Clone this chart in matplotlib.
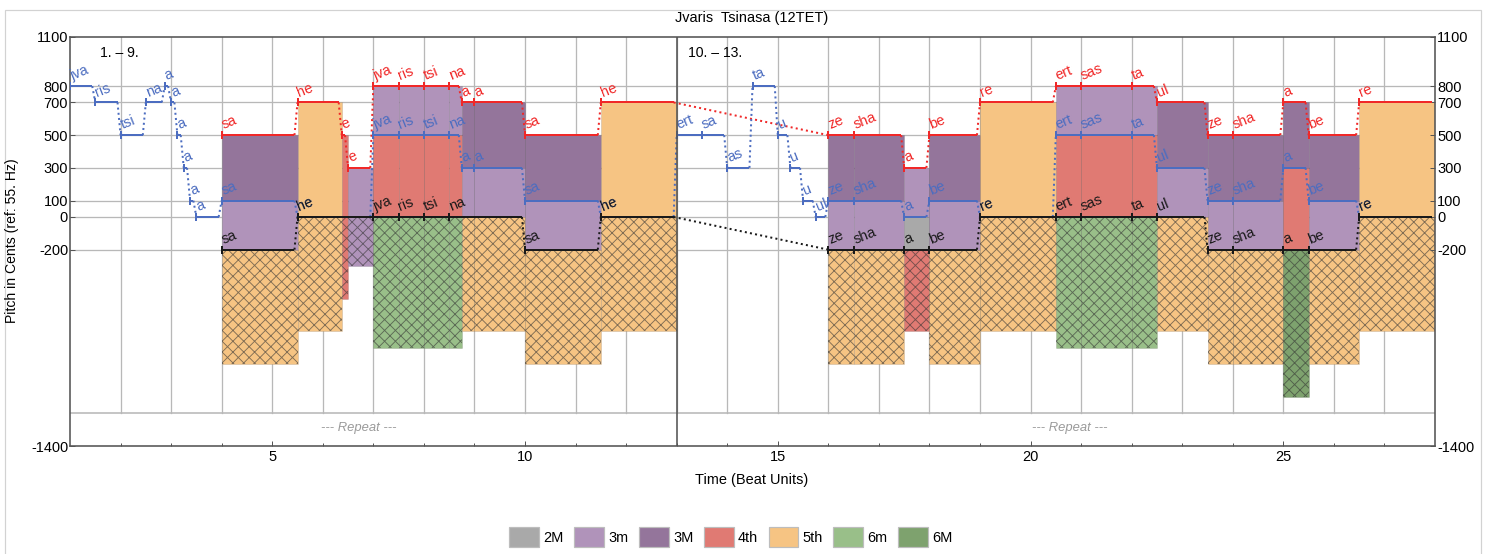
import numpy as np
import matplotlib
matplotlib.use("Agg")
import matplotlib.pyplot as plt
from matplotlib.patches import Rectangle, Patch

DPI = 130
W, H = 1493, 554


def pt(px):
    # pixel size -> points at the chosen dpi
    return px * 72.0 / DPI


plt.rcParams['font.family'] = ['Liberation Sans', 'DejaVu Sans']
plt.rcParams['hatch.linewidth'] = pt(0.9)

# ---- data ----
section_ends = [13, 28]

top_syl = ["sa", "he", "e", "e", "jva", "ris", "tsi", "na", "a", "a", "sa", "he",
           "ze", "sha", "a", "be", "re", "ert", "sas", "ta", "ul", "ze", "sha", "a", "be", "re"]
top_pitch = [500, 700, 500, 300, 800, 800, 800, 800, 700, 700, 500, 700,
             500, 500, 300, 500, 700, 800, 800, 800, 700, 500, 500, 700, 500, 700]
top_on = [4, 5.5, 6.375, 6.5, 7, 7.5, 8, 8.5, 8.75, 9, 10, 11.5,
          16, 16.5, 17.5, 18, 19, 20.5, 21, 22, 22.5, 23.5, 24, 25, 25.5, 26.5]

mid_syl = ["jva", "ris", "tsi", "na", "a", "a", "a", "a", "a", "a", "sa", "he",
           "jva", "ris", "tsi", "na", "a", "a", "sa", "he",
           "ert", "sa", "as", "ta", "u", "u", "u", "ul", "ze", "sha", "a", "be", "re",
           "ert", "sas", "ta", "ul", "ze", "sha", "a", "be", "re"]
mid_pitch = [800, 700, 500, 700, 800, 700, 500, 300, 100, 0, 100, 0,
             500, 500, 500, 500, 300, 300, 100, 0,
             500, 500, 300, 800, 500, 300, 100, 0, 100, 100, 0, 100, 0,
             500, 500, 500, 300, 100, 100, 300, 100, 0]
mid_on = [1, 1.5, 2, 2.5, 2.875, 3, 3.125, 3.25, 3.375, 3.5, 4, 5.5,
          7, 7.5, 8, 8.5, 8.75, 9, 10, 11.5,
          13, 13.5, 14, 14.5, 15, 15.25, 15.5, 15.75, 16, 16.5, 17.5, 18, 19,
          20.5, 21, 22, 22.5, 23.5, 24, 25, 25.5, 26.5]

bot_syl = ["sa", "he", "jva", "ris", "tsi", "na", "sa", "he",
           "ze", "sha", "a", "be", "re", "ert", "sas", "ta", "ul", "ze", "sha", "a", "be", "re"]
bot_pitch = [-200, 0, 0, 0, 0, 0, -200, 0,
             -200, -200, -200, -200, 0, 0, 0, 0, 0, -200, -200, -200, -200, 0]
bot_on = [4, 5.5, 7, 7.5, 8, 8.5, 10, 11.5,
          16, 16.5, 17.5, 18, 19, 20.5, 21, 22, 22.5, 23.5, 24, 25, 25.5, 26.5]

interval_names = ["2M", "3m", "3M", "4th", "5th", "6m", "6M"]
interval_cents = [200, 300, 400, 500, 700, 800, 900]
interval_colors = ["#a9a9a9", "#b093ba", "#94759b", "#e07a73", "#f6c483", "#99bf89", "#7ea26e"]

yticks = [1100, 800, 700, 500, 300, 100, 0, -200, -1400]

RED = "#f02828"
BLUE = "#4c6dc0"
BLACK = "#1a1a1a"
GRID = "#b8b8b8"
SPINE = "#555555"
GAP = 0.06
LW = pt(2.0)

cmap = dict(zip(interval_cents, interval_colors))


def note_ends(on):
    ends = []
    for i, t in enumerate(on):
        nxt = on[i + 1] if i + 1 < len(on) else np.inf
        sec = min(s for s in section_ends if s > t)
        ends.append(min(nxt, sec))
    return ends


top_end = note_ends(top_on)
mid_end = note_ends(mid_on)
bot_end = note_ends(bot_on)


def pitch_at(t, on, ends, pitch):
    for a, b, p in zip(on, ends, pitch):
        if a <= t < b:
            return p
    return None


fig = plt.figure(figsize=(W / DPI, H / DPI), dpi=DPI)
ax = fig.add_axes([70 / W, 1 - 446 / H, (1435 - 70) / W, (446 - 37) / H])
ax.set_xlim(1, 28)
ax.set_ylim(-1400, 1100)

# grid
for x in range(2, 28):
    ax.plot([x, x], [-1200, 1100], color=GRID, lw=pt(1.3), zorder=0)
for y in yticks[1:-1]:
    ax.axhline(y, color=GRID, lw=pt(1.3), zorder=0)
ax.axhline(-1200, color=GRID, lw=pt(1.6), zorder=0)

# interval fills
bps = sorted(set(top_on + top_end + mid_on + mid_end + bot_on + bot_end))
for a, b in zip(bps[:-1], bps[1:]):
    tm = 0.5 * (a + b)
    pt_ = pitch_at(tm, top_on, top_end, top_pitch)
    pm = pitch_at(tm, mid_on, mid_end, mid_pitch)
    pb = pitch_at(tm, bot_on, bot_end, bot_pitch)
    if pt_ is None or pm is None or pb is None:
        continue
    for lo, hi in [(pm, pt_), (pb, pm)]:
        if hi - lo > 0:
            ax.add_patch(Rectangle((a, lo), b - a, hi - lo, facecolor=cmap[hi - lo],
                                   edgecolor=(0, 0, 0, 0.12), lw=pt(0.8), zorder=1))
    outer = pt_ - pb
    if outer > 0:
        ax.add_patch(Rectangle((a, pb - outer), b - a, outer, facecolor=cmap[outer],
                               edgecolor=(0, 0, 0, 0.12), lw=pt(0.8), zorder=1))
        ax.add_patch(Rectangle((a, pb - outer), b - a, outer, facecolor='none',
                               edgecolor=(0.2, 0.2, 0.2, 0.6), hatch='xxxx', lw=0, zorder=1.5))


def draw_voice(on, ends, pitch, syl, color, z):
    for i in range(len(on)):
        x0, x1, p = on[i], ends[i], pitch[i]
        ax.plot([x0, x1 - GAP], [p, p], color=color, lw=LW, solid_capstyle='butt', zorder=z)
        ax.plot([x0], [p], marker='|', ms=pt(8), mew=LW, color=color, zorder=z)
        if i + 1 < len(on):
            ax.plot([x1 - GAP, on[i + 1]], [p, pitch[i + 1]], color=color, lw=LW,
                    ls=(0, (1, 1.6)), zorder=z)
        ax.annotate(syl[i], (x0, p), xytext=(pt(3), pt(3)), textcoords='offset points',
                    ha='left', va='bottom', rotation=22, rotation_mode='anchor',
                    fontsize=pt(14.5), color=color, zorder=z + 1)


draw_voice(top_on, top_end, top_pitch, top_syl, RED, 3)
draw_voice(mid_on, mid_end, mid_pitch, mid_syl, BLUE, 3.2)
draw_voice(bot_on, bot_end, bot_pitch, bot_syl, BLACK, 3.4)

ax.axvline(13, color=SPINE, lw=pt(1.6), zorder=6)

ax.text(1.6, 1000, "1. \u2013 9.", fontsize=pt(14), va='center', ha='left')
ax.text(13.23, 1000, "10. \u2013 13.", fontsize=pt(14), va='center', ha='left')
ax.text(6.72, -1290, "--- Repeat ---", fontsize=pt(13), style='italic', color="#9a9a9a",
        ha='center', va='center')
ax.text(20.78, -1290, "--- Repeat ---", fontsize=pt(13), style='italic', color="#9a9a9a",
        ha='center', va='center')

# axes styling
for s in ax.spines.values():
    s.set_color(SPINE)
    s.set_linewidth(pt(1.6))
ax.set_yticks(yticks)
ax.set_yticklabels([str(v) for v in yticks])
ax.set_xticks([5, 10, 15, 20, 25])
ax.set_xticks(range(2, 28), minor=True)
ax.tick_params(axis='y', direction='in', length=pt(5), width=pt(1), color=SPINE,
               labelsize=pt(14.5), pad=pt(2), left=True, right=True, labelright=True)
ax.tick_params(axis='x', which='major', direction='in', length=pt(5), width=pt(1),
               color=SPINE, labelsize=pt(14.5), pad=pt(4))
ax.tick_params(axis='x', which='minor', direction='in', length=pt(3), width=pt(1), color=SPINE)

fig.text(752 / W, 1 - 18 / H, "Jvaris  Tsinasa (12TET)", fontsize=pt(14.5), ha='center', va='center')
fig.text(12 / W, 1 - 241 / H, "Pitch in Cents (ref: 55. Hz)", fontsize=pt(14),
         rotation=90, ha='center', va='center')
fig.text(752 / W, 1 - 480 / H, "Time (Beat Units)", fontsize=pt(14.5), ha='center', va='center')

# outer frame
fig.patches.append(Rectangle((5 / W, -0.02), (1481 - 5) / W, 1.02 - 10 / H, transform=fig.transFigure,
                             fill=False, edgecolor="#d2d2d2", lw=pt(1.2)))

handles = [Patch(facecolor=c, edgecolor="#bdbdbd", lw=pt(1.2)) for c in interval_colors]
fig.legend(handles, interval_names, loc='center', bbox_to_anchor=(731 / W, 1 - 537 / H),
           ncol=7, frameon=False, fontsize=pt(14.5), handlelength=2.05, handleheight=1.85,
           handletextpad=0.3, columnspacing=0.72, borderpad=0, borderaxespad=0)

fig.savefig("out.png", dpi=DPI)
